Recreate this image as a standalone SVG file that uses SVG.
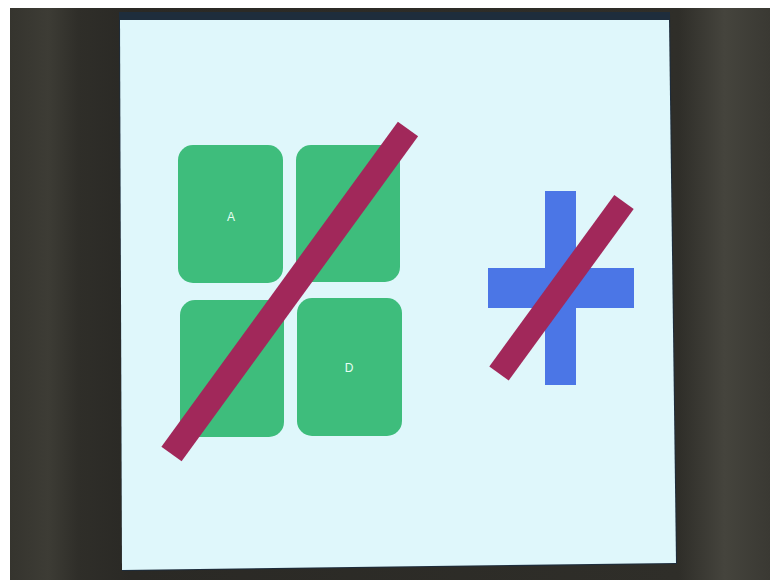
<svg xmlns="http://www.w3.org/2000/svg" width="770" height="580" viewBox="0 0 770 580">
<defs>
<style>
.tile{fill:#3ebd7c}
.lbl{fill:#e8fff4;font-family:"Liberation Sans",Arial,sans-serif;font-size:12px;text-anchor:middle}
.slash{stroke:#a1285a;stroke-width:25;stroke-linecap:butt;fill:none}
.cross{fill:#4b76e6}
</style>
<linearGradient id="room" x1="0" y1="0" x2="1" y2="0">
<stop offset="0" stop-color="#35342e"/>
<stop offset="0.05" stop-color="#3d3c35"/>
<stop offset="0.09" stop-color="#2f2e29"/>
<stop offset="0.16" stop-color="#2a2925"/>
<stop offset="0.88" stop-color="#2f2e29"/>
<stop offset="0.94" stop-color="#45443d"/>
<stop offset="1" stop-color="#3a3933"/>
</linearGradient>
</defs>
<rect x="0" y="0" width="770" height="580" fill="#ffffff"/>
<rect x="10" y="8" width="760" height="572" fill="url(#room)"/>
<polygon points="119,12 670,12 677,564 122,571" fill="#1e2d3c"/>
<polygon points="120,20 669,20 676,563 122,570" fill="#dff7fb"/>
<g id="tileA"><rect class="tile" x="178" y="145" width="105" height="138" rx="15"/><text class="lbl" x="231" y="221">A</text></g>
<g id="tileB"><rect class="tile" x="296" y="145" width="104" height="137" rx="15"/></g>
<g id="tileC"><rect class="tile" x="180" y="300" width="104" height="137" rx="15"/></g>
<g id="tileD"><rect class="tile" x="297" y="298" width="105" height="138" rx="15" fill="#42c687"/><text class="lbl" x="349" y="372">D</text></g>
<g id="slash1"><line class="slash" x1="171.5" y1="454" x2="408" y2="129"/></g>
<g id="cross"><rect class="cross" x="545" y="191" width="31" height="194"/><rect class="cross" x="488" y="268" width="146" height="40"/></g>
<g id="slash2"><line class="slash" x1="499" y1="373.5" x2="624" y2="202" style="stroke-width:24"/></g>
<g id="connectors"></g>
</svg>
